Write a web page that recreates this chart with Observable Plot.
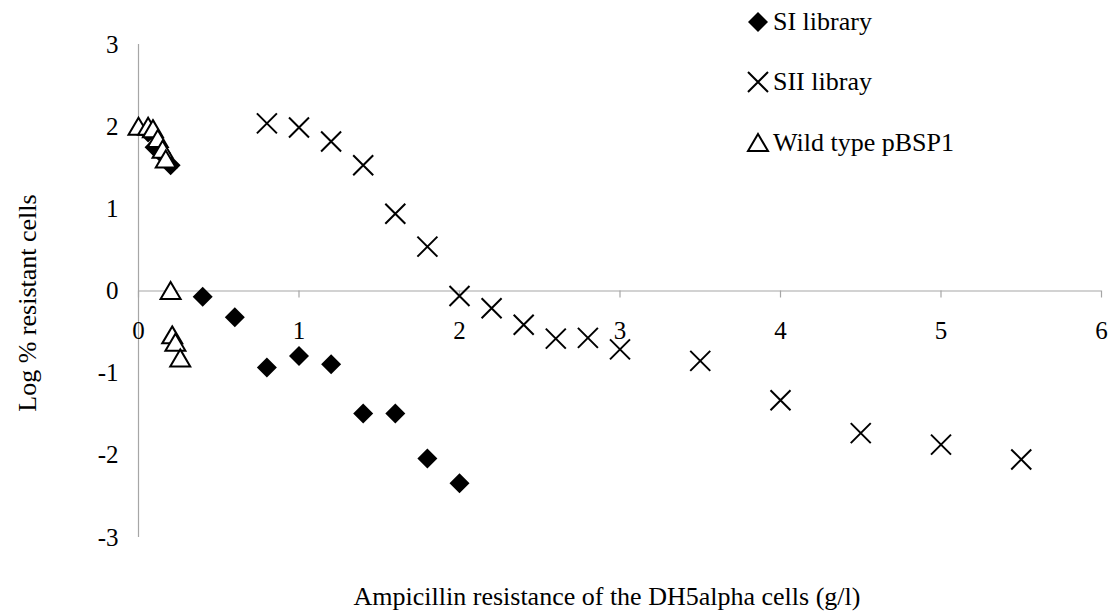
<!DOCTYPE html>
<html>
<head>
<meta charset="utf-8">
<script src="https://cdn.jsdelivr.net/npm/d3@7"></script>
<script src="https://cdn.jsdelivr.net/npm/@observablehq/plot@0.6"></script>
<style>
  html, body { margin: 0; padding: 0; background: #fff; }
  #wrap { position: relative; width: 1113px; height: 614px; font-family: "Liberation Serif", "Times New Roman", serif; }
  #legend { position: absolute; left: 746px; top: 0; font-size: 26px; color: #000; font-family: "Liberation Serif", serif; }
  .li { position: absolute; left: 0; white-space: nowrap; display: flex; align-items: center; height: 30px; }
  .li svg { width: 24px; height: 24px; margin-right: 3px; }
  svg text { font-family: "Liberation Serif", serif; }
</style>
</head>
<body>
<div id="wrap"><div id="chart"></div><div id="legend"></div></div>
<script>
// Series: SI library (filled diamonds)
const siX = [0.06, 0.10, 0.14, 0.20, 0.4, 0.6, 0.8, 1.0, 1.2, 1.4, 1.6, 1.8, 2.0];
const siY = [1.93, 1.75, 1.68, 1.53, -0.07, -0.32, -0.93, -0.79, -0.89, -1.49, -1.49, -2.04, -2.34];
// Series: SII libray (crosses)
const siiX = [0.8, 1.0, 1.2, 1.4, 1.6, 1.8, 2.0, 2.2, 2.4, 2.6, 2.8, 3.0, 3.5, 4.0, 4.5, 5.0, 5.5];
const siiY = [2.04, 1.99, 1.82, 1.53, 0.94, 0.54, -0.06, -0.21, -0.41, -0.58, -0.57, -0.71, -0.85, -1.33, -1.73, -1.87, -2.05];
// Series: Wild type pBSP1 (open triangles)
const wtX = [0.0, 0.06, 0.09, 0.12, 0.15, 0.17, 0.20, 0.21, 0.23, 0.26];
const wtY = [2.00, 2.00, 1.97, 1.85, 1.72, 1.60, 0.00, -0.54, -0.63, -0.82];

const seriesNames = ["SI library", "SII libray", "Wild type pBSP1"];
const xTicks = [0, 1, 2, 3, 4, 5, 6];
const yTicks = [-3, -2, -1, 0, 1, 2, 3];
const xTitle = "Ampicillin resistance of the DH5alpha cells (g/l)";
const yTitle = "Log % resistant cells";

const zip = (xs, ys) => xs.map((x, i) => ({x, y: ys[i]}));
const siData = zip(siX, siY), siiData = zip(siiX, siiY), wtData = zip(wtX, wtY);

const rad = s => Math.sqrt(s / Math.PI);
const diamond = {draw(c, s) { const r = rad(s); c.moveTo(0, -r); c.lineTo(r, 0); c.lineTo(0, r); c.lineTo(-r, 0); c.closePath(); }};
const cross = {draw(c, s) { const r = rad(s); c.moveTo(-r, -r); c.lineTo(r, r); c.moveTo(-r, r); c.lineTo(r, -r); }};
const triangle = {draw(c, s) { const r = rad(s); c.moveTo(0, -r * 0.9); c.lineTo(r, r * 0.8); c.lineTo(-r, r * 0.8); c.closePath(); }};

const axisColor = "#a6a6a6";
const font = "Liberation Serif";
const fs = 25;
const ts = 26;

const chart = Plot.plot({
  width: 1113,
  height: 614,
  marginTop: 44,
  marginBottom: 77,
  marginLeft: 138,
  marginRight: 12,
  style: {fontFamily: font, fontSize: fs + "px", background: "#fff", color: "#000"},
  x: {domain: [0, 6], axis: null},
  y: {domain: [-3, 3], axis: null},
  marks: [
    Plot.ruleX([0], {y1: -3, y2: 3, stroke: axisColor, strokeWidth: 1.2}),
    Plot.ruleY([0], {x1: 0, x2: 6, stroke: axisColor, strokeWidth: 1.2}),
    Plot.ruleX(xTicks, {x: d => d, y1: 0, y2: 0, insetBottom: -7, stroke: axisColor, strokeWidth: 1.2}),
    Plot.text(xTicks, {x: d => d, y: 0, dy: 40, text: d => String(d), fontFamily: font, fontVariant: "normal", fontSize: fs, fill: "#000"}),
    Plot.text(yTicks, {x: 0, y: d => d, dx: -20, text: d => String(d), textAnchor: "end", fontFamily: font, fontVariant: "normal", fontSize: fs, fill: "#000"}),
    Plot.text([yTitle], {text: d => d, frameAnchor: "left", textAnchor: "middle", lineAnchor: "middle", rotate: -90, dx: -111, dy: 12, fontFamily: font, fontSize: ts, fill: "#000"}),
    Plot.text([xTitle], {text: d => d, frameAnchor: "bottom", textAnchor: "middle", lineAnchor: "middle", dx: -13, dy: 59, fontFamily: font, fontSize: ts, fill: "#000"}),
    Plot.dot(siData, {x: "x", y: "y", symbol: diamond, r: 10, fill: "#000", stroke: "none"}),
    Plot.dot(siiData, {x: "x", y: "y", symbol: cross, r: 10, fill: "none", stroke: "#000", strokeWidth: 2}),
    Plot.dot(wtData, {x: "x", y: "y", symbol: triangle, r: 10, fill: "#fff", stroke: "#000", strokeWidth: 2})
  ]
});
document.getElementById("chart").appendChild(chart);

// Legend
const legendSymbols = [
  '<svg viewBox="-12 -12 24 24"><path d="M0,-10L10,0L0,10L-10,0Z" fill="#000"/></svg>',
  '<svg viewBox="-12 -12 24 24"><path d="M-10,-10L10,10M-10,10L10,-10" stroke="#000" stroke-width="2" fill="none"/></svg>',
  '<svg viewBox="-12 -12 24 24"><path d="M0,-9L10,8L-10,8Z" stroke="#000" stroke-width="2" fill="#fff"/></svg>'
];
const legendTops = [7, 67, 128];
const legend = document.getElementById("legend");
seriesNames.forEach((name, i) => {
  const div = document.createElement("div");
  div.className = "li";
  div.style.top = legendTops[i] + "px";
  div.innerHTML = legendSymbols[i] + "<span>" + name + "</span>";
  legend.appendChild(div);
});
</script>
</body>
</html>
